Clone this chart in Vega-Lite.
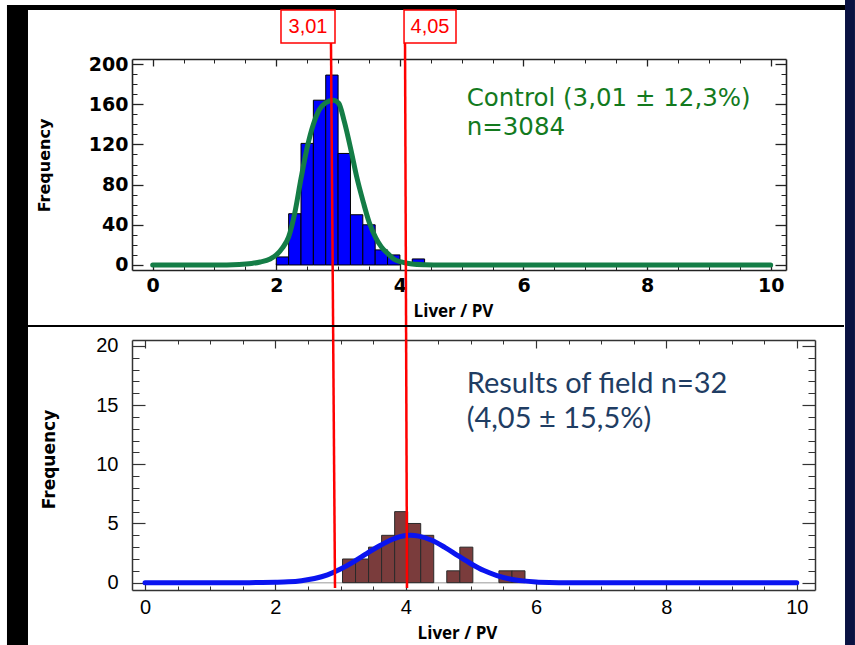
{
  "$schema": "https://vega.github.io/schema/vega-lite/v6.json",
  "padding": 0,
  "background": "white",
  "bounds": "flush",
  "spacing": 70,
  "config": {"view": {"stroke": null}, "axis": {"grid": false, "labelFlush": false, "labelOverlap": false}},
  "datasets": {
    "controlBins": [
      {"lo": 2.0, "hi": 2.2, "freq": 8}, {"lo": 2.2, "hi": 2.4, "freq": 51}, {"lo": 2.4, "hi": 2.6, "freq": 121},
      {"lo": 2.6, "hi": 2.8, "freq": 164}, {"lo": 2.8, "hi": 3.0, "freq": 189}, {"lo": 3.0, "hi": 3.2, "freq": 111},
      {"lo": 3.2, "hi": 3.4, "freq": 50}, {"lo": 3.4, "hi": 3.6, "freq": 40}, {"lo": 3.6, "hi": 3.8, "freq": 15},
      {"lo": 3.8, "hi": 4.0, "freq": 10}, {"lo": 4.2, "hi": 4.4, "freq": 6}
    ],
    "controlFit": [
      {"v": 0, "f": 0}, {"v": 1.0, "f": 0}, {"v": 1.4, "f": 0.5}, {"v": 1.6, "f": 1.5}, {"v": 1.74, "f": 3},
      {"v": 1.9, "f": 6}, {"v": 2.0, "f": 10}, {"v": 2.1, "f": 17}, {"v": 2.2, "f": 28}, {"v": 2.3, "f": 52},
      {"v": 2.4, "f": 86}, {"v": 2.5, "f": 117}, {"v": 2.6, "f": 140}, {"v": 2.7, "f": 155}, {"v": 2.8, "f": 161.5},
      {"v": 2.92, "f": 164}, {"v": 3.01, "f": 161}, {"v": 3.1, "f": 143}, {"v": 3.21, "f": 114}, {"v": 3.3, "f": 88},
      {"v": 3.41, "f": 62}, {"v": 3.5, "f": 43}, {"v": 3.61, "f": 27}, {"v": 3.7, "f": 18}, {"v": 3.81, "f": 11},
      {"v": 3.9, "f": 6}, {"v": 4.02, "f": 3}, {"v": 4.2, "f": 1}, {"v": 4.4, "f": 0.3}, {"v": 4.7, "f": 0}, {"v": 10, "f": 0}
    ],
    "fieldBins": [
      {"lo": 3.03, "hi": 3.23, "freq": 2}, {"lo": 3.23, "hi": 3.43, "freq": 2}, {"lo": 3.43, "hi": 3.63, "freq": 3},
      {"lo": 3.63, "hi": 3.83, "freq": 4}, {"lo": 3.83, "hi": 4.03, "freq": 6}, {"lo": 4.03, "hi": 4.23, "freq": 5},
      {"lo": 4.23, "hi": 4.43, "freq": 4}, {"lo": 4.63, "hi": 4.83, "freq": 1}, {"lo": 4.83, "hi": 5.03, "freq": 3},
      {"lo": 5.43, "hi": 5.63, "freq": 1}, {"lo": 5.63, "hi": 5.83, "freq": 1}
    ],
    "fieldFit": [
      {"v": 0, "f": 0}, {"v": 1.6, "f": 0}, {"v": 1.8, "f": 0.01}, {"v": 2.0, "f": 0.03}, {"v": 2.2, "f": 0.07},
      {"v": 2.4, "f": 0.17}, {"v": 2.6, "f": 0.35}, {"v": 2.8, "f": 0.66}, {"v": 3.0, "f": 1.15}, {"v": 3.2, "f": 1.76},
      {"v": 3.4, "f": 2.45}, {"v": 3.6, "f": 3.12}, {"v": 3.8, "f": 3.67}, {"v": 4.0, "f": 3.98}, {"v": 4.07, "f": 4.0},
      {"v": 4.2, "f": 3.93}, {"v": 4.4, "f": 3.58}, {"v": 4.6, "f": 2.98}, {"v": 4.8, "f": 2.28}, {"v": 5.0, "f": 1.6},
      {"v": 5.2, "f": 1.02}, {"v": 5.4, "f": 0.6}, {"v": 5.6, "f": 0.31}, {"v": 5.8, "f": 0.15}, {"v": 6.0, "f": 0.06},
      {"v": 6.2, "f": 0.02}, {"v": 6.5, "f": 0}, {"v": 10, "f": 0}
    ]
  },
  "vconcat": [
    {
      "width": 654,
      "height": 211,
      "resolve": {"axis": {"x": "independent", "y": "independent"}},
      "layer": [
        {
          "data": {"values": [{}]},
          "mark": {"type": "rect", "color": "white", "opacity": 0},
          "encoding": {
            "x": {"datum": -2.471, "type": "quantitative", "scale": {"domain": [-0.335, 10.248], "nice": false, "zero": false}, "axis": null},
            "x2": {"datum": 11.364},
            "y": {"datum": 263.68, "type": "quantitative", "scale": {"domain": [-5, 205], "nice": false, "zero": false}, "axis": null},
            "y2": {"datum": -378.1}
          }
        },
        {
          "data": {"values": [{}]},
          "mark": {"type": "rect", "color": "black"},
          "encoding": {
            "x": {"datum": -2.358, "type": "quantitative", "scale": {"domain": [-0.335, 10.248], "nice": false, "zero": false}, "axis": null},
            "x2": {"datum": -2.018},
            "y": {"datum": 258.74, "type": "quantitative", "scale": {"domain": [-5, 205], "nice": false, "zero": false}, "axis": null},
            "y2": {"datum": -378.1}
          }
        },
        {
          "data": {"values": [{}]},
          "mark": {"type": "rect", "color": "black"},
          "encoding": {
            "x": {"datum": -2.358, "type": "quantitative", "scale": {"domain": [-0.335, 10.248], "nice": false, "zero": false}, "axis": null},
            "x2": {"datum": 11.203},
            "y": {"datum": 258.74, "type": "quantitative", "scale": {"domain": [-5, 205], "nice": false, "zero": false}, "axis": null},
            "y2": {"datum": 253.77}
          }
        },
        {
          "data": {"values": [{}]},
          "mark": {"type": "rect", "color": "#0a1242"},
          "encoding": {
            "x": {"datum": 11.203, "type": "quantitative", "scale": {"domain": [-0.335, 10.248], "nice": false, "zero": false}, "axis": null},
            "x2": {"datum": 11.364},
            "y": {"datum": 263.68, "type": "quantitative", "scale": {"domain": [-5, 205], "nice": false, "zero": false}, "axis": null},
            "y2": {"datum": -378.1}
          }
        },
        {
          "data": {"name": "controlBins"},
          "mark": {"type": "bar", "fill": "#0000ff", "stroke": "#000000", "strokeWidth": 1},
          "encoding": {
            "x": {"field": "lo", "type": "quantitative", "scale": {"domain": [-0.335, 10.248], "nice": false, "zero": false},
              "axis": {"orient": "bottom", "values": [0, 2, 4, 6, 8, 10], "tickSize": -7, "tickColor": "#222", "tickWidth": 1.3,
                "domainColor": "#222", "domainWidth": 1.6, "labelFont": "DejaVu Sans", "labelFontWeight": "bold", "labelFontSize": 19,
                "labelColor": "#000", "labelPadding": 13, "title": "Liver / PV", "titleFont": "Open Sans", "titleFontWeight": "bold",
                "titleFontSize": 17, "titleColor": "#000", "titleX": 321, "titleY": 33}},
            "x2": {"field": "hi"},
            "y": {"field": "freq", "type": "quantitative", "scale": {"domain": [-5, 205], "nice": false, "zero": false},
              "axis": {"orient": "left", "values": [0, 40, 80, 120, 160, 200], "tickSize": -11, "tickColor": "#222", "tickWidth": 1.3,
                "domainColor": "#222", "domainWidth": 1.6, "labelFont": "DejaVu Sans", "labelFontWeight": "bold", "labelFontSize": 19,
                "labelColor": "#000", "labelPadding": 15, "title": "Frequency", "titleFont": "DejaVu Sans", "titleFontWeight": "bold",
                "titleFontSize": 16, "titleColor": "#000", "titleX": -80, "titleY": 106}},
            "y2": {"datum": 0}
          }
        },
        {
          "data": {"name": "controlFit"},
          "mark": {"type": "line", "color": "#147d46", "strokeWidth": 5, "interpolate": "monotone", "strokeCap": "round"},
          "encoding": {
            "x": {"field": "v", "type": "quantitative", "scale": {"domain": [-0.335, 10.248], "nice": false, "zero": false},
              "axis": {"orient": "bottom", "values": [0, 0.5, 1, 1.5, 2, 2.5, 3, 3.5, 4, 4.5, 5, 5.5, 6, 6.5, 7, 7.5, 8, 8.5, 9, 9.5, 10],
                "tickSize": -4, "tickColor": "#222", "labels": false, "domain": false, "title": null}},
            "y": {"field": "f", "type": "quantitative", "scale": {"domain": [-5, 205], "nice": false, "zero": false},
              "axis": {"orient": "left", "values": [0, 10, 20, 30, 40, 50, 60, 70, 80, 90, 100, 110, 120, 130, 140, 150, 160, 170, 180, 190, 200],
                "tickSize": -5, "tickColor": "#222", "labels": false, "domain": false, "title": null}}
          }
        },
        {
          "data": {"values": [{}]},
          "mark": {"type": "rule", "color": "#ff0000", "strokeWidth": 2.5},
          "encoding": {
            "x": {"datum": 2.885, "type": "quantitative", "scale": {"domain": [-0.335, 10.248], "nice": false, "zero": false}, "axis": null},
            "x2": {"datum": 2.921},
            "y": {"datum": 220.9, "type": "quantitative", "scale": {"domain": [-5, 205], "nice": false, "zero": false}, "axis": null},
            "y2": {"datum": -74.67}
          }
        },
        {
          "data": {"values": [{}]},
          "mark": {"type": "rule", "color": "#ff0000", "strokeWidth": 2.5},
          "encoding": {
            "x": {"datum": 4.083, "type": "quantitative", "scale": {"domain": [-0.335, 10.248], "nice": false, "zero": false}, "axis": null},
            "x2": {"datum": 4.101},
            "y": {"datum": 220.9, "type": "quantitative", "scale": {"domain": [-5, 205], "nice": false, "zero": false}, "axis": null},
            "y2": {"datum": -74.67}
          }
        },
        {
          "data": {"values": [{}]},
          "mark": {"type": "rect", "fill": "white", "stroke": "#ff0000", "strokeWidth": 1.5},
          "encoding": {
            "x": {"datum": 2.076, "type": "quantitative", "scale": {"domain": [-0.335, 10.248], "nice": false, "zero": false}, "axis": null},
            "x2": {"datum": 2.95},
            "y": {"datum": 253.77, "type": "quantitative", "scale": {"domain": [-5, 205], "nice": false, "zero": false}, "axis": null},
            "y2": {"datum": 220.9}
          }
        },
        {
          "data": {"values": [{}]},
          "mark": {"type": "rect", "fill": "white", "stroke": "#ff0000", "strokeWidth": 1.5},
          "encoding": {
            "x": {"datum": 4.067, "type": "quantitative", "scale": {"domain": [-0.335, 10.248], "nice": false, "zero": false}, "axis": null},
            "x2": {"datum": 4.908},
            "y": {"datum": 253.77, "type": "quantitative", "scale": {"domain": [-5, 205], "nice": false, "zero": false}, "axis": null},
            "y2": {"datum": 220.9}
          }
        },
        {
          "data": {"values": [{}]},
          "mark": {"type": "text", "text": "3,01", "font": "Liberation Sans", "fontSize": 20, "color": "#ff0000", "align": "center", "baseline": "middle"},
          "encoding": {
            "x": {"datum": 2.513, "type": "quantitative", "scale": {"domain": [-0.335, 10.248], "nice": false, "zero": false}, "axis": null},
            "y": {"datum": 236.85, "type": "quantitative", "scale": {"domain": [-5, 205], "nice": false, "zero": false}, "axis": null}
          }
        },
        {
          "data": {"values": [{}]},
          "mark": {"type": "text", "text": "4,05", "font": "Liberation Sans", "fontSize": 20, "color": "#ff0000", "align": "center", "baseline": "middle"},
          "encoding": {
            "x": {"datum": 4.487, "type": "quantitative", "scale": {"domain": [-0.335, 10.248], "nice": false, "zero": false}, "axis": null},
            "y": {"datum": 236.85, "type": "quantitative", "scale": {"domain": [-5, 205], "nice": false, "zero": false}, "axis": null}
          }
        },
        {
          "data": {"values": [{}]},
          "mark": {"type": "text", "text": "Control (3,01 ± 12,3%)", "font": "DejaVu Sans", "fontSize": 24.5, "color": "#137a1e", "align": "left", "baseline": "alphabetic"},
          "encoding": {
            "x": {"datum": 5.081, "type": "quantitative", "scale": {"domain": [-0.335, 10.248], "nice": false, "zero": false},
              "axis": {"orient": "top", "values": [0, 2, 4, 6, 8, 10], "tickSize": -7, "tickColor": "#222", "tickWidth": 1.3,
                "domainColor": "#222", "domainWidth": 1.6, "labels": false, "title": null}},
            "y": {"datum": 158.2, "type": "quantitative", "scale": {"domain": [-5, 205], "nice": false, "zero": false},
              "axis": {"orient": "right", "values": [0, 40, 80, 120, 160, 200], "tickSize": -11, "tickColor": "#222", "tickWidth": 1.3,
                "domainColor": "#222", "domainWidth": 1.6, "labels": false, "title": null}}
          }
        },
        {
          "data": {"values": [{}]},
          "mark": {"type": "text", "text": "n=3084", "font": "DejaVu Sans", "fontSize": 24.5, "color": "#137a1e", "align": "left", "baseline": "alphabetic"},
          "encoding": {
            "x": {"datum": 5.081, "type": "quantitative", "scale": {"domain": [-0.335, 10.248], "nice": false, "zero": false},
              "axis": {"orient": "top", "values": [0, 0.5, 1, 1.5, 2, 2.5, 3, 3.5, 4, 4.5, 5, 5.5, 6, 6.5, 7, 7.5, 8, 8.5, 9, 9.5, 10],
                "tickSize": -4, "tickColor": "#222", "labels": false, "domain": false, "title": null}},
            "y": {"datum": 129.4, "type": "quantitative", "scale": {"domain": [-5, 205], "nice": false, "zero": false},
              "axis": {"orient": "right", "values": [0, 10, 20, 30, 40, 50, 60, 70, 80, 90, 100, 110, 120, 130, 140, 150, 160, 170, 180, 190, 200],
                "tickSize": -5, "tickColor": "#222", "labels": false, "domain": false, "title": null}}
          }
        }
      ]
    },
    {
      "width": 683,
      "height": 250,
      "resolve": {"axis": {"x": "independent", "y": "independent"}},
      "layer": [
        {
          "data": {"values": [{}]},
          "mark": {"type": "rule", "color": "#000000", "strokeWidth": 2},
          "encoding": {
            "x": {"datum": -1.796, "type": "quantitative", "scale": {"domain": [-0.2, 10.28], "nice": false, "zero": false}, "axis": null},
            "x2": {"datum": 10.725},
            "y": {"datum": 21.68, "type": "quantitative", "scale": {"domain": [-0.62, 20.5], "nice": false, "zero": false}, "axis": null}
          }
        },
        {
          "data": {"values": [{}]},
          "mark": {"type": "rule", "color": "#bbbbbb", "strokeWidth": 1.5},
          "encoding": {
            "x": {"datum": 0, "type": "quantitative", "scale": {"domain": [-0.2, 10.28], "nice": false, "zero": false}, "axis": null},
            "x2": {"datum": 10},
            "y": {"datum": 0, "type": "quantitative", "scale": {"domain": [-0.62, 20.5], "nice": false, "zero": false}, "axis": null}
          }
        },
        {
          "data": {"name": "fieldBins"},
          "mark": {"type": "bar", "fill": "#7a3c3c", "stroke": "#2a2a2a", "strokeWidth": 1},
          "encoding": {
            "x": {"field": "lo", "type": "quantitative", "scale": {"domain": [-0.2, 10.28], "nice": false, "zero": false},
              "axis": {"orient": "bottom", "values": [0, 2, 4, 6, 8, 10], "tickSize": -8, "tickColor": "#333", "tickWidth": 1.2,
                "domainColor": "#333", "domainWidth": 1.5, "labelFont": "Liberation Sans", "labelFontSize": 20,
                "labelColor": "#000", "labelPadding": 15, "title": "Liver / PV", "titleFont": "Open Sans", "titleFontWeight": "bold",
                "titleFontSize": 17, "titleColor": "#000", "titleX": 325, "titleY": 35}},
            "x2": {"field": "hi"},
            "y": {"field": "freq", "type": "quantitative", "scale": {"domain": [-0.62, 20.5], "nice": false, "zero": false},
              "axis": {"orient": "left", "values": [0, 5, 10, 15, 20], "tickSize": -13, "tickColor": "#333", "tickWidth": 1.2,
                "domainColor": "#333", "domainWidth": 1.5, "labelFont": "Liberation Sans", "labelFontSize": 20,
                "labelColor": "#000", "labelPadding": 27, "title": "Frequency", "titleFont": "DejaVu Sans", "titleFontWeight": "bold",
                "titleFontSize": 17, "titleColor": "#000", "titleX": -74, "titleY": 119}},
            "y2": {"datum": 0}
          }
        },
        {
          "data": {"name": "fieldFit"},
          "mark": {"type": "line", "color": "#0a14f0", "strokeWidth": 5, "interpolate": "monotone", "strokeCap": "round"},
          "encoding": {
            "x": {"field": "v", "type": "quantitative", "scale": {"domain": [-0.2, 10.28], "nice": false, "zero": false},
              "axis": {"orient": "bottom", "values": [0, 0.5, 1, 1.5, 2, 2.5, 3, 3.5, 4, 4.5, 5, 5.5, 6, 6.5, 7, 7.5, 8, 8.5, 9, 9.5, 10],
                "tickSize": -4, "tickColor": "#333", "labels": false, "domain": false, "title": null}},
            "y": {"field": "f", "type": "quantitative", "scale": {"domain": [-0.62, 20.5], "nice": false, "zero": false},
              "axis": {"orient": "left", "values": [0, 1, 2, 3, 4, 5, 6, 7, 8, 9, 10, 11, 12, 13, 14, 15, 16, 17, 18, 19, 20],
                "tickSize": -7, "tickColor": "#333", "labels": false, "domain": false, "title": null}}
          }
        },
        {
          "data": {"values": [{}]},
          "mark": {"type": "rule", "color": "#ff0000", "strokeWidth": 2.5},
          "encoding": {
            "x": {"datum": 2.887, "type": "quantitative", "scale": {"domain": [-0.2, 10.28], "nice": false, "zero": false}, "axis": null},
            "x2": {"datum": 2.915},
            "y": {"datum": 20.5, "type": "quantitative", "scale": {"domain": [-0.62, 20.5], "nice": false, "zero": false}, "axis": null},
            "y2": {"datum": -0.45}
          }
        },
        {
          "data": {"values": [{}]},
          "mark": {"type": "rule", "color": "#ff0000", "strokeWidth": 2.5},
          "encoding": {
            "x": {"datum": 4.006, "type": "quantitative", "scale": {"domain": [-0.2, 10.28], "nice": false, "zero": false}, "axis": null},
            "x2": {"datum": 4.02},
            "y": {"datum": 20.5, "type": "quantitative", "scale": {"domain": [-0.62, 20.5], "nice": false, "zero": false}, "axis": null},
            "y2": {"datum": -0.45}
          }
        },
        {
          "data": {"values": [{}]},
          "mark": {"type": "text", "text": "Results of field n=32", "font": "Lato", "fontSize": 29, "color": "#1f3d63", "align": "left", "baseline": "alphabetic"},
          "encoding": {
            "x": {"datum": 4.936, "type": "quantitative", "scale": {"domain": [-0.2, 10.28], "nice": false, "zero": false},
              "axis": {"orient": "top", "values": [0, 2, 4, 6, 8, 10], "tickSize": -8, "tickColor": "#333", "tickWidth": 1.2,
                "domainColor": "#333", "domainWidth": 1.5, "labels": false, "title": null}},
            "y": {"datum": 16.02, "type": "quantitative", "scale": {"domain": [-0.62, 20.5], "nice": false, "zero": false},
              "axis": {"orient": "right", "values": [0, 5, 10, 15, 20], "tickSize": -13, "tickColor": "#333", "tickWidth": 1.2,
                "domainColor": "#333", "domainWidth": 1.5, "labels": false, "title": null}}
          }
        },
        {
          "data": {"values": [{}]},
          "mark": {"type": "text", "text": "(4,05 ± 15,5%)", "font": "Lato", "fontSize": 29, "color": "#1f3d63", "align": "left", "baseline": "alphabetic"},
          "encoding": {
            "x": {"datum": 4.936, "type": "quantitative", "scale": {"domain": [-0.2, 10.28], "nice": false, "zero": false},
              "axis": {"orient": "top", "values": [0, 0.5, 1, 1.5, 2, 2.5, 3, 3.5, 4, 4.5, 5, 5.5, 6, 6.5, 7, 7.5, 8, 8.5, 9, 9.5, 10],
                "tickSize": -4, "tickColor": "#333", "labels": false, "domain": false, "title": null}},
            "y": {"datum": 13.07, "type": "quantitative", "scale": {"domain": [-0.62, 20.5], "nice": false, "zero": false},
              "axis": {"orient": "right", "values": [0, 1, 2, 3, 4, 5, 6, 7, 8, 9, 10, 11, 12, 13, 14, 15, 16, 17, 18, 19, 20],
                "tickSize": -7, "tickColor": "#333", "labels": false, "domain": false, "title": null}}
          }
        }
      ]
    }
  ]
}
